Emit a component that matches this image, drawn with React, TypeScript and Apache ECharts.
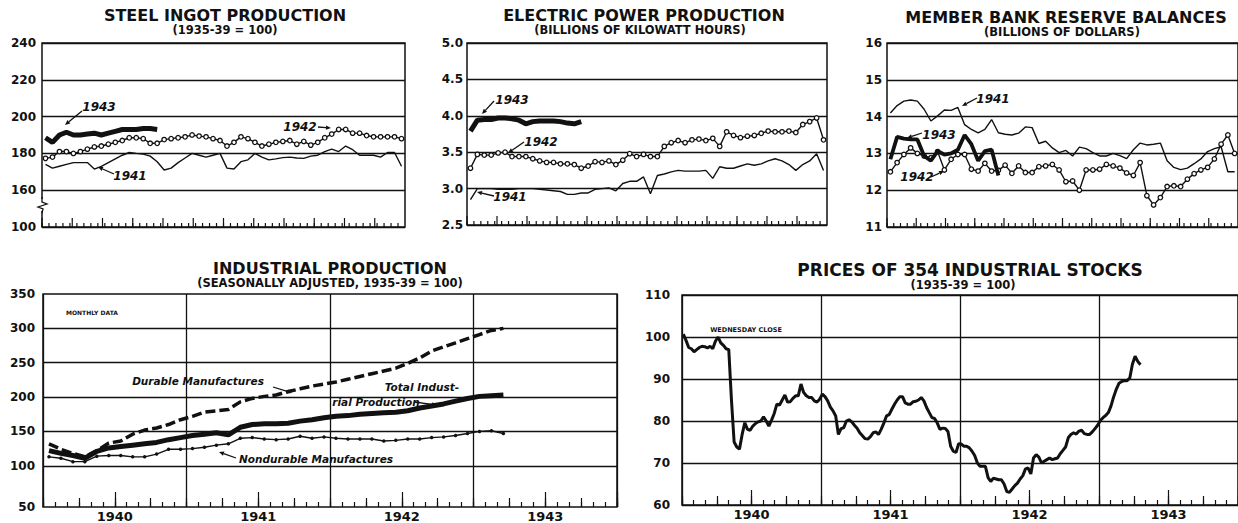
import React, { useEffect, useRef } from "react";
import * as echarts from "echarts";

// ---------- categories ----------
const WEEK_CATS = Array.from({ length: 52 }, (_, i) => `Week ${i + 1}`);
const MONTH_NAMES = ["Jan", "Feb", "Mar", "Apr", "May", "Jun", "Jul", "Aug", "Sep", "Oct", "Nov", "Dec"];
const YEARS = ["1940", "1941", "1942", "1943"];
const MONTH_CATS_48 = YEARS.flatMap((y) => MONTH_NAMES.map((m) => `${m} ${y}`));
const STOCK_WEEK_CATS = Array.from({ length: 208 }, (_, i) => `W${i + 1}`);

// ---------- steel ingot production (weekly, 1935-39 = 100) ----------
const STEEL_1941 = [174, 172, 173, 174, 175, 175, 175, 171.5, 173, 175, 177, 179, 180.5, 180, 179.6, 178.5, 175.5, 171, 172, 175, 177.5, 180, 179, 178, 179, 180, 172, 171.5, 175.5, 176.5, 180, 178, 176.5, 177, 177.7, 178, 177.5, 177.3, 178.5, 179, 181, 182.3, 181, 184, 182, 179, 179, 179, 178, 180.5, 180.5, 173];
const STEEL_1942 = [177.3, 178, 181, 181, 180, 181, 182.3, 183.5, 184, 185, 186, 187, 188.5, 188.5, 188, 185.5, 185.5, 187.5, 188, 188.5, 189, 190, 189.4, 189, 188, 187, 184, 186, 189, 188, 186, 184, 185, 186, 186.5, 187, 185, 186.5, 184.5, 186, 188.5, 190.5, 193, 193, 191, 191, 189.7, 189, 189, 189, 189, 188];
const STEEL_1943 = [188.5, 186, 190, 191.5, 190, 190, 190.5, 191, 190, 191, 192, 193, 193, 193, 193.5, 193.5, 193];

// ---------- electric power production (billions of kWh) ----------
const ELEC_1941 = [2.85, 3.0, 3.0, 3.0, 2.99, 2.99, 2.99, 3.0, 3.0, 3.0, 2.99, 2.98, 2.97, 2.96, 2.92, 2.92, 2.94, 2.94, 2.99, 3.0, 3.01, 2.97, 3.07, 3.1, 3.1, 3.16, 2.93, 3.18, 3.2, 3.23, 3.25, 3.24, 3.24, 3.24, 3.25, 3.14, 3.3, 3.28, 3.28, 3.31, 3.34, 3.32, 3.34, 3.38, 3.41, 3.38, 3.33, 3.25, 3.33, 3.38, 3.48, 3.25];
const ELEC_1942 = [3.28, 3.47, 3.46, 3.46, 3.49, 3.5, 3.44, 3.44, 3.44, 3.41, 3.38, 3.36, 3.36, 3.34, 3.34, 3.33, 3.28, 3.31, 3.37, 3.36, 3.38, 3.33, 3.39, 3.48, 3.44, 3.47, 3.44, 3.44, 3.58, 3.63, 3.66, 3.63, 3.67, 3.68, 3.66, 3.69, 3.58, 3.78, 3.73, 3.7, 3.72, 3.73, 3.76, 3.79, 3.78, 3.78, 3.79, 3.77, 3.88, 3.92, 3.97, 3.67];
const ELEC_1943 = [3.79, 3.94, 3.95, 3.95, 3.97, 3.97, 3.96, 3.94, 3.89, 3.92, 3.93, 3.93, 3.93, 3.92, 3.9, 3.89, 3.92];

// ---------- member bank reserve balances (billions of dollars) ----------
const BANK_1941 = [14.1, 14.3, 14.42, 14.45, 14.42, 14.2, 13.88, 14.02, 14.18, 14.17, 14.25, 13.78, 13.65, 13.56, 13.65, 13.92, 13.56, 13.52, 13.5, 13.55, 13.72, 13.7, 13.27, 13.33, 13.15, 13.02, 13.08, 12.93, 13.17, 13.13, 13.02, 12.93, 12.93, 13.0, 12.94, 12.86, 13.1, 13.28, 13.23, 13.25, 13.28, 12.8, 12.62, 12.56, 12.6, 12.72, 12.85, 13.05, 13.13, 13.18, 12.5, 12.5];
const BANK_1942 = [12.5, 12.75, 12.97, 13.15, 13.0, 12.93, 12.88, 13.05, 12.55, 12.84, 12.97, 12.97, 12.57, 12.52, 12.73, 12.52, 12.54, 12.68, 12.46, 12.66, 12.48, 12.48, 12.64, 12.66, 12.7, 12.55, 12.23, 12.25, 12.0, 12.55, 12.55, 12.57, 12.7, 12.66, 12.6, 12.47, 12.4, 12.75, 11.85, 11.6, 11.8, 12.1, 12.12, 12.1, 12.3, 12.45, 12.55, 12.62, 12.85, 13.25, 13.5, 13.0];
const BANK_1943 = [12.84, 13.45, 13.4, 13.38, 13.38, 12.93, 12.8, 13.06, 12.97, 13.0, 13.1, 13.5, 13.25, 12.8, 13.06, 13.1, 12.4];

// ---------- industrial production (monthly, Jan 1940 - Mar 1943) ----------
const IND_DURABLE = [132, 124, 118, 113, 122, 133, 136, 146, 152, 155, 160, 167, 172, 178, 180, 182, 193, 198, 201, 203, 208, 212, 216, 219, 222, 226, 230, 234, 238, 242, 249, 257, 267, 273, 279, 285, 291, 297, 300];
const IND_TOTAL = [122, 118, 115, 111, 121, 126, 128, 130, 132, 134, 138, 141, 144, 146, 148, 145, 156, 160, 161, 161, 162, 165, 167, 170, 172, 173, 175, 176, 177, 178, 180, 184, 187, 190, 194, 198, 201, 202, 203];
const IND_NONDURABLE = [113, 111, 106, 106, 114, 115, 115, 113, 113, 117, 124, 124, 125, 127, 130, 132, 140, 141, 139, 138, 139, 143, 140, 142, 140, 139, 139, 139, 136, 137, 139, 139, 141, 142, 144, 147, 150, 151, 147];
const IND_GRID_VALUES = [100, 150, 200, 250, 300];

// ---------- prices of 354 industrial stocks (weekly, Wednesday close) ----------
const STOCK = [
  100.7, 99.2, 97.5, 97.2, 96.5, 97.0, 97.5, 97.8, 97.7, 97.4,
  97.8, 97.2, 99.0, 100.0, 98.6, 98.0, 97.2, 97.0, 85.0, 75.0,
  73.8, 73.3, 76.8, 79.6, 78.0, 77.8, 78.8, 79.4, 79.8, 80.0,
  81.0, 80.0, 78.8, 80.2, 81.8, 84.0, 83.8, 85.0, 86.2, 84.5,
  84.6, 85.4, 86.0, 86.0, 88.8, 86.8, 86.0, 85.6, 85.6, 84.8,
  84.5, 85.2, 86.4, 85.8, 84.8, 83.3, 82.4, 81.2, 76.8, 78.2,
  78.4, 80.0, 80.3, 79.8, 79.0, 78.3, 77.2, 76.5, 75.8, 75.7,
  76.3, 77.2, 77.4, 76.8, 78.0, 79.5, 81.2, 81.5, 82.8, 84.0,
  85.0, 85.8, 85.8, 84.3, 84.0, 84.0, 84.6, 84.7, 85.0, 85.6,
  84.8, 83.2, 82.0, 80.8, 80.6, 79.5, 78.0, 78.3, 78.2, 77.5,
  74.0, 72.8, 72.5, 74.6, 74.5, 74.0, 74.0, 73.6, 72.8, 71.8,
  70.0, 69.2, 69.2, 69.2, 66.5, 65.6, 66.4, 66.2, 66.0, 66.0,
  65.0, 63.2, 63.0, 63.8, 64.6, 65.2, 66.2, 67.0, 68.6, 68.8,
  67.4, 71.2, 72.0, 71.4, 70.0, 70.4, 70.8, 71.2, 70.8, 71.0,
  71.2, 72.2, 73.0, 73.8, 76.0, 76.8, 77.2, 76.9, 77.6, 77.8,
  77.0, 76.8, 76.8, 77.4, 78.2, 79.0, 80.1, 80.8, 81.3, 82.0,
  83.6, 85.8, 87.6, 89.0, 89.4, 89.6, 89.6, 90.2, 93.5, 95.4,
  94.2, 93.4,
];

// ---------- value-axis ranges of the weekly panels ----------
const STEEL_MIN = 140;
const ELEC_MIN = 2.5;
const BANK_MIN = 11;

// ---------- styling ----------
const FONT = '"DejaVu Sans", "Liberation Sans", sans-serif';
const INK = "#111";

const catAxis = (gridIndex: number, data: string[], tickLen: number, tickInterval: any, extra: any = {}) => ({
  type: "category",
  show: true,
  gridIndex,
  data,
  boundaryGap: true,
  position: "bottom",
  axisLine: { show: false, onZero: false },
  axisLabel: { show: false },
  axisTick: { show: tickLen > 0, inside: true, alignWithLabel: false, length: tickLen, interval: tickInterval, lineStyle: { color: INK, width: 1.2 } },
  splitLine: { show: false },
  ...extra,
});

const yearAxis = (gridIndex: number) =>
  catAxis(gridIndex, YEARS.slice(), 0, 0, {
    axisLabel: { show: true, interval: 0, margin: 3, fontFamily: FONT, fontWeight: "bold", fontSize: 13, color: INK },
    splitLine: { show: true, interval: 0, lineStyle: { color: INK, width: 1.3 } },
  });

const valAxis = (gridIndex: number, min: number, max: number, interval: number, formatter: any, margin: number, split = true) => ({
  type: "value",
  gridIndex,
  min,
  max,
  interval,
  axisLine: { show: false, onZero: false },
  axisTick: { show: false },
  axisLabel: { margin, formatter, fontFamily: FONT, fontWeight: "bold", fontSize: 12, color: INK },
  splitLine: { show: split, lineStyle: { color: INK, width: 1.3 } },
});

const thinLine = (data: number[], x: number, y: number) => ({
  type: "line", data, xAxisIndex: x, yAxisIndex: y, silent: true, symbol: "none",
  lineStyle: { color: INK, width: 1.4 }, z: 3,
});
const circleLine = (data: number[], x: number, y: number) => ({
  type: "line", data, xAxisIndex: x, yAxisIndex: y, silent: true, symbol: "circle", symbolSize: 4.5,
  itemStyle: { color: "#fff", borderColor: INK, borderWidth: 1.3 },
  lineStyle: { color: INK, width: 1.4 }, z: 4,
});
const thickLine = (data: number[], x: number, y: number, w = 4.5) => ({
  type: "line", data, xAxisIndex: x, yAxisIndex: y, silent: true, symbol: "none",
  lineStyle: { color: INK, width: w }, z: 5,
});

// tick marks drawn at the left boundary of every category band, placed through the axes' own scales
const tickSeries = (cats: string[], yMin: number, x: number, y: number, len: number) => ({
  type: "custom",
  xAxisIndex: x,
  yAxisIndex: y,
  silent: true,
  clip: false,
  z: 2,
  data: cats.map((c) => [c, yMin]),
  renderItem: (_params: any, api: any) => {
    const c = api.coord([api.value(0), api.value(1)]);
    const band = api.size([1, 0])[0];
    const px = c[0] - band / 2;
    return {
      type: "line",
      shape: { x1: px, y1: c[1], x2: px, y2: c[1] - len },
      style: { stroke: INK, lineWidth: 1.2 },
    };
  },
});

const txt = (text: string, x: number, y: number, size: number, italic = false) => ({
  type: "text", x, y, silent: true,
  style: {
    text, fill: INK, fontFamily: FONT, fontWeight: "bold", fontSize: size,
    fontStyle: italic ? "italic" : "normal", textAlign: "center", textVerticalAlign: "middle",
  },
});

const arrow = (x1: number, y1: number, x2: number, y2: number) => {
  const dx = x2 - x1, dy = y2 - y1;
  const L = Math.hypot(dx, dy) || 1;
  const ux = dx / L, uy = dy / L;
  const bx = x2 - ux * 5, by = y2 - uy * 5;
  return [
    { type: "line", silent: true, shape: { x1, y1, x2: bx, y2: by }, style: { stroke: INK, lineWidth: 1.3 } },
    { type: "polygon", silent: true, shape: { points: [[x2, y2], [bx + uy * 2.2, by - ux * 2.2], [bx - uy * 2.2, by + ux * 2.2]] }, style: { fill: INK } },
  ];
};

function buildOption(): any {
  const gridBase = { show: true, borderColor: INK, borderWidth: 1.5, backgroundColor: "transparent" };
  const grid = [
    { ...gridBase, left: 43, top: 294, width: 574, height: 216 }, // industrial
    { ...gridBase, left: 682, top: 295, width: 566, height: 210 }, // stocks
    { ...gridBase, left: 42, top: 43, width: 363, height: 184 }, // steel
    { ...gridBase, left: 467, top: 43, width: 360, height: 182 }, // electric
    { ...gridBase, left: 887, top: 43, width: 362, height: 184 }, // bank
  ];

  const xAxis = [
    catAxis(0, MONTH_CATS_48.slice(), 5, 0), // 0 industrial data axis
    catAxis(0, MONTH_CATS_48.slice(), 9, (i: number) => i % 3 === 0), // 1
    catAxis(0, MONTH_CATS_48.slice(), 15, (i: number) => i % 12 === 6), // 2
    yearAxis(0), // 3
    catAxis(1, STOCK_WEEK_CATS.slice(), 0, 0), // 4 stock data axis
    catAxis(1, MONTH_CATS_48.slice(), 5, 0), // 5
    catAxis(1, MONTH_CATS_48.slice(), 9, (i: number) => i % 3 === 0), // 6
    catAxis(1, MONTH_CATS_48.slice(), 15, (i: number) => i % 12 === 6), // 7
    yearAxis(1), // 8
    catAxis(2, WEEK_CATS.slice(), 0, 0), // 9 steel weeks
    catAxis(2, MONTH_NAMES.slice(), 0, 0), // 10 steel months
    catAxis(3, WEEK_CATS.slice(), 0, 0), // 11 electric weeks
    catAxis(3, MONTH_NAMES.slice(), 0, 0), // 12 electric months
    catAxis(4, WEEK_CATS.slice(), 0, 0), // 13 bank weeks
    catAxis(4, MONTH_NAMES.slice(), 0, 0), // 14 bank months
  ];

  const yAxis = [
    valAxis(0, 40, 350, 10, (v: number) => (v === 40 ? "50" : v >= 100 && v % 50 === 0 ? String(v) : ""), 8, false),
    valAxis(1, 60, 110, 10, (v: number) => String(v), 12),
    valAxis(2, STEEL_MIN, 240, 20, (v: number) => (v === 140 ? "100" : String(v)), 6),
    valAxis(3, ELEC_MIN, 5.0, 0.5, (v: number) => v.toFixed(1), 4),
    valAxis(4, BANK_MIN, 16, 1, (v: number) => String(v), 5),
  ];

  const series: any[] = [
    {
      type: "line", data: IND_DURABLE, xAxisIndex: 0, yAxisIndex: 0, silent: true, symbol: "none",
      lineStyle: { color: INK, width: 3.5, type: [10, 4] }, z: 4,
    },
    {
      ...thickLine(IND_TOTAL, 0, 0, 5),
      markLine: {
        silent: true, symbol: ["none", "none"], label: { show: false },
        lineStyle: { color: INK, width: 1.3, type: "solid" },
        emphasis: { disabled: true },
        data: IND_GRID_VALUES.map((v) => ({ yAxis: v })),
      },
    },
    {
      type: "line", data: IND_NONDURABLE, xAxisIndex: 0, yAxisIndex: 0, silent: true, symbol: "circle", symbolSize: 3.5,
      itemStyle: { color: INK }, lineStyle: { color: INK, width: 1.4 }, z: 4,
    },
    thickLine(STOCK, 4, 1, 3),

    tickSeries(WEEK_CATS, STEEL_MIN, 9, 2, 4),
    tickSeries(MONTH_NAMES, STEEL_MIN, 10, 2, 9),
    thinLine(STEEL_1941, 9, 2),
    circleLine(STEEL_1942, 9, 2),
    thickLine(STEEL_1943, 9, 2, 5),

    tickSeries(WEEK_CATS, ELEC_MIN, 11, 3, 4),
    tickSeries(MONTH_NAMES, ELEC_MIN, 12, 3, 9),
    thinLine(ELEC_1941, 11, 3),
    circleLine(ELEC_1942, 11, 3),
    thickLine(ELEC_1943, 11, 3, 5),

    tickSeries(WEEK_CATS, BANK_MIN, 13, 4, 4),
    tickSeries(MONTH_NAMES, BANK_MIN, 14, 4, 9),
    thinLine(BANK_1941, 13, 4),
    circleLine(BANK_1942, 13, 4),
    thickLine(BANK_1943, 13, 4, 3.8),
  ];

  const graphic: any[] = [
    txt("STEEL INGOT PRODUCTION", 225, 15, 16),
    txt("(1935-39 = 100)", 225, 30, 11.5),
    txt("ELECTRIC POWER PRODUCTION", 644, 15, 16),
    txt("(BILLIONS OF KILOWATT HOURS)", 640, 30, 11.5),
    txt("MEMBER BANK RESERVE BALANCES", 1066, 17, 16),
    txt("(BILLIONS OF DOLLARS)", 1062, 32, 11.5),
    txt("INDUSTRIAL PRODUCTION", 330, 268, 16),
    txt("(SEASONALLY ADJUSTED, 1935-39 = 100)", 330, 283, 11.5),
    txt("PRICES OF 354 INDUSTRIAL STOCKS", 970, 270, 17),
    txt("(1935-39 = 100)", 963, 285, 11.5),

    txt("1943", 99, 107, 12, true), ...arrow(82, 111, 65, 125),
    txt("1942", 300, 127, 12, true), ...arrow(318, 127, 331, 128),
    txt("1941", 130, 176, 12, true), ...arrow(114, 174, 98, 167),

    txt("1943", 512, 100, 12, true), ...arrow(494, 101, 482, 114),
    txt("1942", 541, 142, 12, true), ...arrow(524, 142, 508, 153),
    txt("1941", 510, 197, 12, true), ...arrow(494, 196, 477, 192),

    txt("1941", 993, 99, 12, true), ...arrow(977, 98, 962, 106),
    txt("1943", 939, 135, 12, true), ...arrow(922, 133, 907, 138),
    txt("1942", 917, 177, 12, true), ...arrow(931, 177, 944, 171),

    txt("MONTHLY DATA", 92, 312, 6),
    txt("Durable Manufactures", 198, 381, 10.5, true), ...arrow(273, 387, 292, 393),
    txt("Total Indust-", 422, 387, 10.5, true),
    txt("rial Production", 376, 402, 10.5, true), ...arrow(414, 402, 437, 405),
    txt("Nondurable Manufactures", 316, 459, 10.5, true), ...arrow(236, 458, 219, 452),

    txt("WEDNESDAY CLOSE", 746, 330, 6.5),

    { type: "rect", silent: true, shape: { x: 40, y: 199, width: 5, height: 12 }, style: { fill: "#fff" } },
    { type: "polyline", silent: true, shape: { points: [[42, 197], [42, 202], [47, 204], [38, 207], [43, 209], [42, 213]] }, style: { stroke: INK, lineWidth: 1.3, fill: "none" } },
  ];

  return {
    animation: false,
    backgroundColor: "#fff",
    textStyle: { fontFamily: FONT },
    grid,
    xAxis,
    yAxis,
    series,
    graphic,
  };
}

export default function App() {
  const ref = useRef<HTMLDivElement>(null);
  useEffect(() => {
    if (!ref.current) return;
    const chart = echarts.init(ref.current, null, { renderer: "svg" });
    chart.setOption(buildOption());
    return () => chart.dispose();
  }, []);
  return (
    <div
      ref={ref}
      style={{ position: "fixed", left: 0, top: 0, width: 1238, height: 523, background: "#fff", overflow: "hidden" }}
    />
  );
}
